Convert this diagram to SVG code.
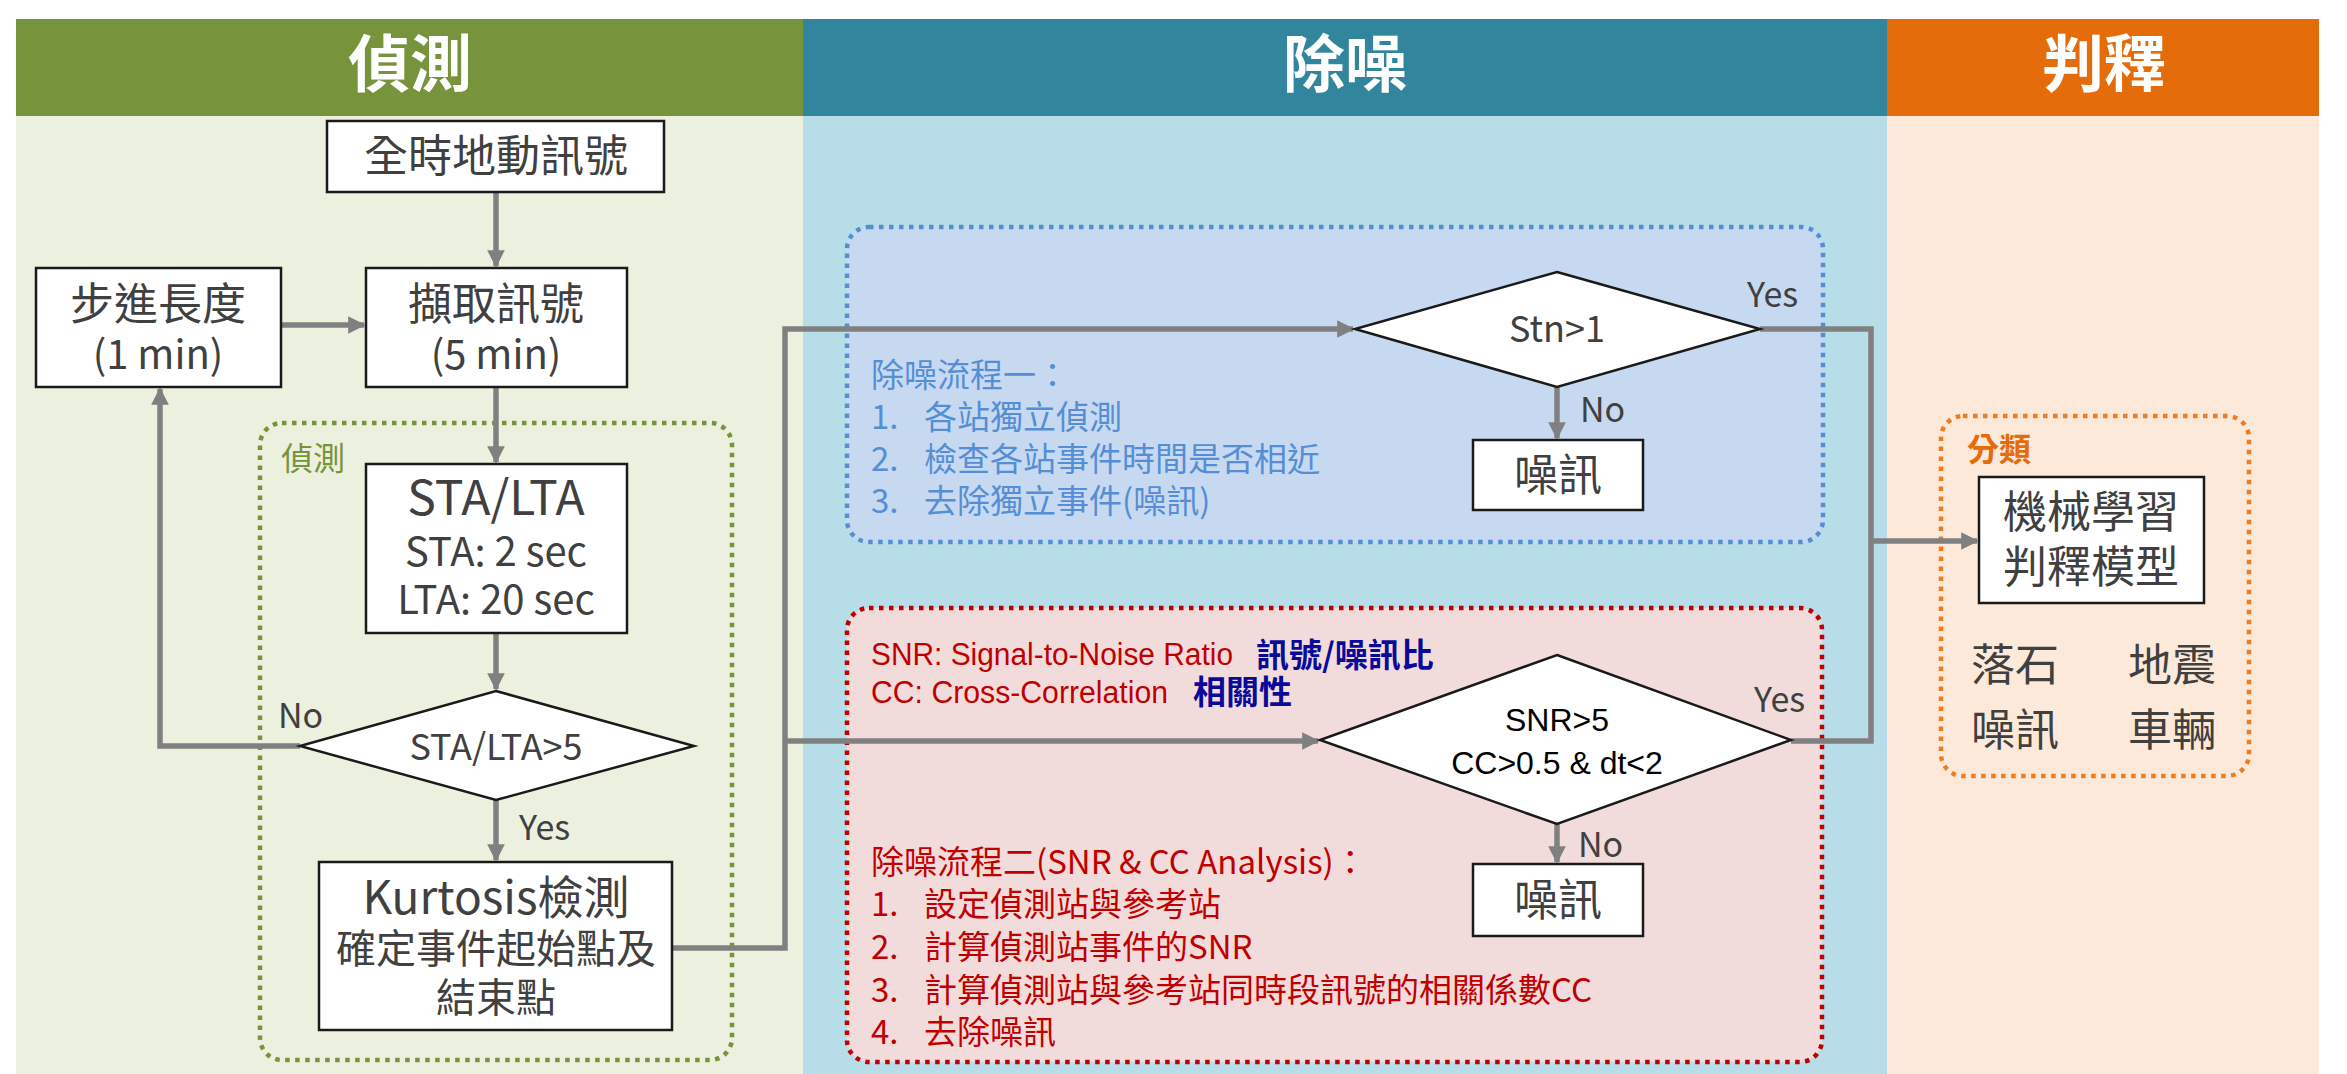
<svg xmlns="http://www.w3.org/2000/svg" width="2347" height="1074" viewBox="0 0 2347 1074">
  <style>
    .cjk { font-family: "Noto Sans CJK TC", "Noto Sans", sans-serif; }
    .arial { font-family: "Liberation Sans", Arial, sans-serif; }
    .title { font-family: "Noto Sans CJK TC", sans-serif; font-size: 62px; font-weight: 700; fill: #ffffff; text-anchor: middle; }
    .box { fill: #ffffff; stroke: #1a1a1a; stroke-width: 2.5; }
    .btxt { fill: #404040; text-anchor: middle; }
    .lbl { font-family: "Noto Sans CJK TC", sans-serif; font-size: 34px; fill: #404040; }
    .conn { fill: none; stroke: #808080; stroke-width: 5.5; }
    .dots { stroke-width: 4.5; stroke-dasharray: 4.5 5.5; }
    .blue { fill: #558ED5; font-size: 33px; }
    .red { fill: #C00000; font-size: 33px; }
  </style>
  <defs>
    <marker id="arrow" viewBox="0 0 10 10" refX="9" refY="5" markerWidth="3.2" markerHeight="3.2" orient="auto" markerUnits="strokeWidth">
      <path d="M0,0 L10,5 L0,10 z" fill="#808080"/>
    </marker>
  </defs>

  <!-- lane backgrounds -->
  <rect x="0" y="0" width="2347" height="1074" fill="#ffffff"/>
  <rect x="16" y="116" width="787" height="958" fill="#EBF1DE"/>
  <rect x="803" y="116" width="1084" height="958" fill="#B7DEE8"/>
  <rect x="1887" y="116" width="432" height="958" fill="#FDE9D9"/>

  <!-- lane headers -->
  <rect x="16" y="19" width="787" height="97" fill="#77933C"/>
  <rect x="803" y="19" width="1084" height="97" fill="#31859C"/>
  <rect x="1887" y="19" width="432" height="97" fill="#E46C0A"/>
  <text class="title" x="410" y="87">偵測</text>
  <text class="title" x="1345" y="87">除噪</text>
  <text class="title" x="2104" y="87">判釋</text>

  <!-- grouping frames -->
  <g id="frame-detect">
    <rect class="dots" x="260" y="423" width="472" height="637" rx="22" fill="none" stroke="#77933C"/>
    <text class="cjk" x="281" y="470" font-size="32" fill="#77933C">偵測</text>
  </g>
  <g id="frame-denoise1">
    <rect class="dots" x="847" y="227" width="976" height="315" rx="22" fill="#C6D9F1" stroke="#558ED5"/>
    <text class="cjk blue" x="871" y="387">除噪流程一：</text>
    <text class="cjk blue" x="871" y="429">1.</text>
    <text class="cjk blue" x="924" y="429">各站獨立偵測</text>
    <text class="cjk blue" x="871" y="471">2.</text>
    <text class="cjk blue" x="924" y="471">檢查各站事件時間是否相近</text>
    <text class="cjk blue" x="871" y="513">3.</text>
    <text class="cjk blue" x="924" y="513">去除獨立事件(噪訊)</text>
  </g>
  <g id="frame-denoise2">
    <rect class="dots" x="847" y="608" width="975" height="454" rx="22" fill="#F2DCDB" stroke="#C00000"/>
    <text class="arial" x="871" y="665" font-size="31" fill="#C00000" textLength="362" lengthAdjust="spacingAndGlyphs">SNR: Signal-to-Noise Ratio</text>
    <text class="cjk" x="1256" y="667" font-size="33" font-weight="700" fill="#0A0A9A">訊號/噪訊比</text>
    <text class="arial" x="871" y="703" font-size="31" fill="#C00000" textLength="297" lengthAdjust="spacingAndGlyphs">CC: Cross-Correlation</text>
    <text class="cjk" x="1193" y="704" font-size="33" font-weight="700" fill="#0A0A9A">相關性</text>
    <text class="cjk red" x="871" y="874">除噪流程二(SNR &amp; CC Analysis)：</text>
    <text class="cjk red" x="871" y="916">1.</text>
    <text class="cjk red" x="924" y="916">設定偵測站與參考站</text>
    <text class="cjk red" x="871" y="959">2.</text>
    <text class="cjk red" x="924" y="959">計算偵測站事件的SNR</text>
    <text class="cjk red" x="871" y="1002">3.</text>
    <text class="cjk red" x="924" y="1002">計算偵測站與參考站同時段訊號的相關係數CC</text>
    <text class="cjk red" x="871" y="1044">4.</text>
    <text class="cjk red" x="924" y="1044">去除噪訊</text>
  </g>
  <g id="frame-classify">
    <rect class="dots" x="1941" y="416" width="308" height="360" rx="22" fill="none" stroke="#F07C1E"/>
    <text class="cjk" x="1967" y="461" font-size="32" font-weight="700" fill="#E46C0A">分類</text>
  </g>

  <!-- connectors -->
  <g id="connectors">
    <path class="conn" d="M496,192 V266" marker-end="url(#arrow)"/>
    <path class="conn" d="M281,325 H364" marker-end="url(#arrow)"/>
    <path class="conn" d="M496,387 V462" marker-end="url(#arrow)"/>
    <path class="conn" d="M496,633 V689" marker-end="url(#arrow)"/>
    <path class="conn" d="M300,746 H160 V389" marker-end="url(#arrow)"/>
    <path class="conn" d="M496,800 V860" marker-end="url(#arrow)"/>
    <path class="conn" d="M672,948 H785 V329 H1353" marker-end="url(#arrow)"/>
    <path class="conn" d="M785,741 H1318" marker-end="url(#arrow)"/>
    <path class="conn" d="M1557,387 V438" marker-end="url(#arrow)"/>
    <path class="conn" d="M1557,824 V862" marker-end="url(#arrow)"/>
    <path class="conn" d="M1760,329 H1871 V741 H1791"/>
    <path class="conn" d="M1871,541 H1977" marker-end="url(#arrow)"/>
    <text class="lbl" x="278" y="728">No</text>
    <text class="lbl" x="519" y="840">Yes</text>
    <text class="lbl" x="1747" y="307">Yes</text>
    <text class="lbl" x="1580" y="422">No</text>
    <text class="lbl" x="1754" y="712">Yes</text>
    <text class="lbl" x="1578" y="857">No</text>
  </g>

  <!-- process nodes -->
  <g id="node-source">
    <rect class="box" x="327" y="121" width="337" height="71"/>
    <text class="cjk btxt" x="496" y="172" font-size="44">全時地動訊號</text>
  </g>
  <g id="node-step">
    <rect class="box" x="36" y="268" width="245" height="119"/>
    <text class="cjk btxt" x="158" y="320" font-size="44">步進長度</text>
    <text class="cjk btxt" x="158" y="369" font-size="40">(1 min)</text>
  </g>
  <g id="node-extract">
    <rect class="box" x="366" y="268" width="261" height="119"/>
    <text class="cjk btxt" x="496" y="320" font-size="44">擷取訊號</text>
    <text class="cjk btxt" x="496" y="369" font-size="40">(5 min)</text>
  </g>
  <g id="node-stalta">
    <rect class="box" x="366" y="464" width="261" height="169"/>
    <text class="cjk btxt" x="496" y="515" font-size="48">STA/LTA</text>
    <text class="cjk btxt" x="496" y="566" font-size="40">STA: 2 sec</text>
    <text class="cjk btxt" x="496" y="614" font-size="40">LTA: 20 sec</text>
  </g>
  <g id="node-ratio-check">
    <path class="box" d="M496,691 L694,746 L496,800 L300,746 Z"/>
    <text class="cjk btxt" x="496" y="760" font-size="36">STA/LTA&gt;5</text>
  </g>
  <g id="node-kurtosis">
    <rect class="box" x="319" y="862" width="353" height="168"/>
    <text class="cjk btxt" x="496" y="914" font-size="46">Kurtosis檢測</text>
    <text class="cjk btxt" x="496" y="963" font-size="40">確定事件起始點及</text>
    <text class="cjk btxt" x="496" y="1012" font-size="40">結束點</text>
  </g>
  <g id="node-stn-check">
    <path class="box" d="M1557,272 L1760,329 L1557,387 L1355,329 Z"/>
    <text class="cjk btxt" x="1557" y="342" font-size="36">Stn&gt;1</text>
  </g>
  <g id="node-noise1">
    <rect class="box" x="1473" y="440" width="170" height="70"/>
    <text class="cjk btxt" x="1558" y="491" font-size="44">噪訊</text>
  </g>
  <g id="node-snr-check">
    <path class="box" d="M1557,655 L1791,740 L1557,824 L1320,740 Z"/>
    <text class="arial" x="1557" y="731" font-size="32" fill="#000000" text-anchor="middle">SNR&gt;5</text>
    <text class="arial" x="1557" y="774" font-size="32" fill="#000000" text-anchor="middle">CC&gt;0.5 &amp; dt&lt;2</text>
  </g>
  <g id="node-noise2">
    <rect class="box" x="1473" y="864" width="170" height="72"/>
    <text class="cjk btxt" x="1558" y="916" font-size="44">噪訊</text>
  </g>
  <g id="node-model">
    <rect class="box" x="1979" y="477" width="225" height="126"/>
    <text class="cjk btxt" x="2091" y="528" font-size="44">機械學習</text>
    <text class="cjk btxt" x="2091" y="583" font-size="44">判釋模型</text>
  </g>
  <g id="node-classes">
    <text class="cjk" x="1971" y="681" font-size="44" fill="#404040">落石</text>
    <text class="cjk" x="2128" y="681" font-size="44" fill="#404040">地震</text>
    <text class="cjk" x="1971" y="746" font-size="44" fill="#404040">噪訊</text>
    <text class="cjk" x="2128" y="746" font-size="44" fill="#404040">車輛</text>
  </g>
</svg>
